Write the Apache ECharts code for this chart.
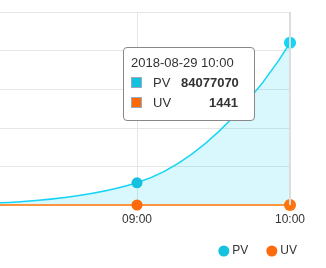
<!DOCTYPE html>
<html>
<head>
<meta charset="utf-8">
<script src="https://cdn.jsdelivr.net/npm/echarts@6/dist/echarts.min.js"></script>
<style>
    html, body {
        margin: 0;
        padding: 0;
        background: #fff;
    }

    #chart {
        width: 326px;
        height: 268px;
    }
</style>
</head>
<body>
<div id="chart"></div>
<script>
    // 数据
    var hours = ['08:00', '09:00', '10:00'];
    var pvData = [1000000, 11500000, 84077070];
    var uvData = [60, 420, 1441];
    var tipDate = '2018-08-29';
    var seriesNames = ['PV', 'UV'];
    var colors = ['#14c1df', '#fc6a0c'];

    var myChart = echarts.init(document.getElementById('chart'));

    var option = {
        animation: false,
        textStyle: {
            fontFamily: '"Liberation Sans", Arial, sans-serif'
        },
        color: colors,
        grid: {
            top: 12,
            left: -16,
            right: 36,
            bottom: 63,
            outerBoundsMode: 'none'
        },
        tooltip: {
            trigger: 'axis',
            alwaysShowContent: true,
            position: [123, 47],
            backgroundColor: '#fff',
            borderColor: '#888',
            borderWidth: 1,
            padding: [7, 16, 7, 7],
            extraCssText: 'border-radius:4px;box-shadow:none;',
            axisPointer: {
                type: 'line',
                lineStyle: {
                    color: '#ddd',
                    width: 2,
                    type: 'solid'
                }
            },
            formatter: function(params) {
                var html = '<div style="font-size:13px;color:#333;line-height:16px;margin-bottom:2px;">' +
                    tipDate + ' ' + params[0].axisValue + '</div>';
                params.forEach(function(p) {
                    html += '<div style="font-size:13px;color:#333;line-height:20px;white-space:nowrap;">' +
                        '<span style="display:inline-block;width:9px;height:9px;margin-right:11px;vertical-align:-1px;border:1px solid #9ab;background:' + colors[p.seriesIndex] + ';"></span>' +
                        '<span style="display:inline-block;width:28px;">' + p.seriesName + '</span>' +
                        '<span style="display:inline-block;width:57px;text-align:right;font-weight:bold;">' + p.value + '</span></div>';
                });
                return html;
            }
        },
        legend: {
            data: seriesNames,
            icon: 'circle',
            right: 24,
            bottom: 6,
            itemWidth: 11,
            itemHeight: 11,
            itemGap: 18,
            textStyle: {
                color: '#333',
                fontSize: 12,
                padding: [0, 0, 0, -2]
            }
        },
        xAxis: {
            type: 'category',
            boundaryGap: false,
            data: hours,
            axisTick: {
                show: false
            },
            axisLine: {
                lineStyle: {
                    color: '#ccc'
                }
            },
            axisLabel: {
                color: '#333',
                fontSize: 12,
                margin: 9,
                showMinLabel: false
            },
            splitLine: {
                show: true,
                lineStyle: {
                    color: '#e6e6e6'
                }
            }
        },
        yAxis: {
            type: 'value',
            min: 0,
            max: 100000000,
            interval: 20000000,
            axisLabel: {
                show: false
            },
            axisLine: {
                show: false
            },
            axisTick: {
                show: false
            },
            splitLine: {
                lineStyle: {
                    color: '#e6e6e6'
                }
            }
        },
        series: [{
            name: 'PV',
            type: 'line',
            smooth: true,
            data: pvData,
            symbol: 'circle',
            symbolSize: 11,
            lineStyle: {
                color: '#14c1df',
                width: 1.5
            },
            itemStyle: {
                color: '#14c1df'
            },
            areaStyle: {
                color: 'rgba(20,193,223,0.24)'
            }
        }, {
            name: 'UV',
            type: 'line',
            smooth: true,
            data: uvData,
            symbol: 'circle',
            symbolSize: 11,
            lineStyle: {
                color: '#f5883a',
                width: 2
            },
            itemStyle: {
                color: '#fc6a0c'
            }
        }]
    };
    myChart.setOption(option);

    myChart.dispatchAction({
        type: 'showTip',
        seriesIndex: 0,
        dataIndex: 2
    });
</script>
</body>
</html>
